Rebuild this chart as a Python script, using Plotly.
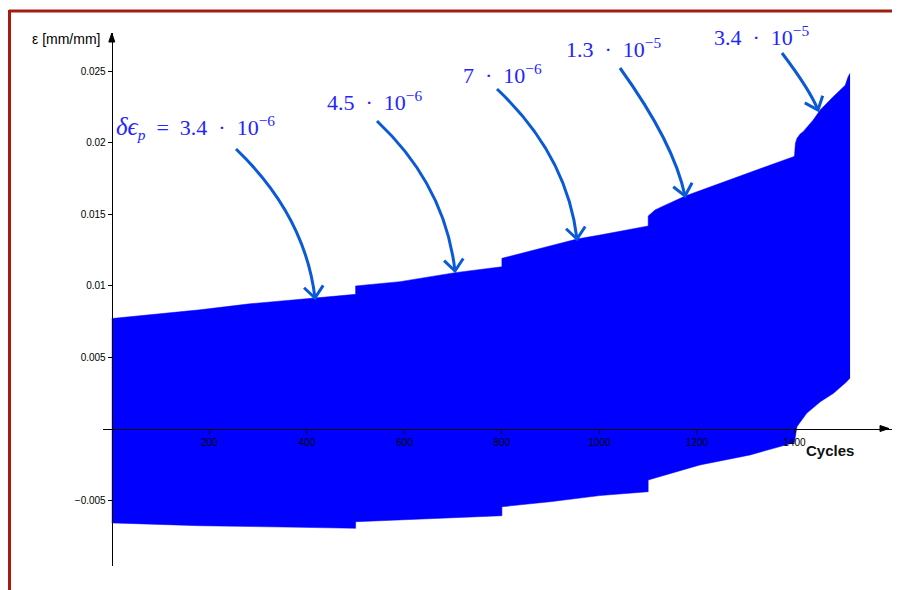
import math
import plotly.graph_objects as go

# ---------------- data ----------------
# upper envelope (max strain per cycle)
upper_cycles = [0, 181, 283, 417, 500, 500, 591, 704, 800, 800, 954, 1001, 1100,
                1100, 1114, 1128, 1176, 1398, 1400, 1401.9, 1405.3, 1411.7, 1417.8,
                1438.4, 1452.7, 1479.4, 1504, 1510, 1514]
upper_strain = [0.00769, 0.00830, 0.00872, 0.00913, 0.00938, 0.00997, 0.01027, 0.01090,
                0.01131, 0.01190, 0.01325, 0.01353, 0.01416,
                0.01486, 0.01528, 0.01551, 0.01626, 0.01901, 0.01905, 0.01994, 0.02030,
                0.02060, 0.02076, 0.02157, 0.02227, 0.02320, 0.02400, 0.02460, 0.02484]
# lower envelope (min strain per cycle)
lower_cycles = [0, 181, 387, 500, 500, 591, 694, 800, 800, 899, 1001, 1100,
                1100, 1206, 1309, 1400, 1405, 1425, 1453, 1480, 1507, 1514]
lower_strain = [-0.00660, -0.00680, -0.00691, -0.00698, -0.00652, -0.00640, -0.00628,
                -0.00610, -0.00547, -0.00512, -0.00469, -0.00442,
                -0.00360, -0.00255, -0.00185, -0.00098, 0.00013, 0.00106, 0.00187,
                0.00246, 0.00327, 0.00353]

x_tick_vals = [200, 400, 600, 800, 1000, 1200, 1400, 1600]
x_tick_text = ["200", "400", "600", "800", "1000", "1200", "1400", "1600"]
y_tick_vals = [-0.005, 0.005, 0.01, 0.015, 0.02, 0.025]
y_tick_text = ["\u22120.005", "0.005", "0.01", "0.015", "0.02", "0.025"]

SP = "\u2002"   # en space (math-like spacing around binary operators)
labels = [f"<span style='font-size:25px'><i>\u03b4\u03f5</i></span><i><sub>p</sub></i>"
          f"{SP}={SP}3.4{SP}\u00b7{SP}10<sup>\u22126</sup>",
          f"4.5{SP}\u00b7{SP}10<sup>\u22126</sup>",
          f"7{SP}\u00b7{SP}10<sup>\u22126</sup>",
          f"1.3{SP}\u00b7{SP}10<sup>\u22125</sup>",
          f"3.4{SP}\u00b7{SP}10<sup>\u22125</sup>"]

# ---------------- layout geometry ----------------
OFF = 8                    # page body margin
W, H = 892, 582
X_DOM_PX = (103, 892)
Y_DOM_PX = (566, 33)       # bottom, top (window pixels)
X_RANGE = [-18.05, 1600]
Y_RANGE = [-0.009615, 0.027657]

def px2paper_x(px):
    return (px - OFF) / W

def px2paper_y(py):
    return 1 - (py - OFF) / H

x_domain = [px2paper_x(X_DOM_PX[0]), px2paper_x(X_DOM_PX[1])]
y_domain = [px2paper_y(Y_DOM_PX[0]), px2paper_y(Y_DOM_PX[1])]
x_axis_pos = y_domain[0] + (0 - Y_RANGE[0]) / (Y_RANGE[1] - Y_RANGE[0]) * (y_domain[1] - y_domain[0])
y_axis_pos = x_domain[0] + (0 - X_RANGE[0]) / (X_RANGE[1] - X_RANGE[0]) * (x_domain[1] - x_domain[0])

BAND = "#0000ff"
ARROW = "#0a5ad6"
TEXT = "#2424ff"
FRAME = "#a31c10"

fig = go.Figure()
fig.add_trace(go.Scatter(x=lower_cycles, y=lower_strain, mode="lines",
                         line=dict(color=BAND, width=0.5), showlegend=False,
                         hoverinfo="skip"))
fig.add_trace(go.Scatter(x=upper_cycles, y=upper_strain, mode="lines",
                         line=dict(color=BAND, width=0.5), fill="tonexty",
                         fillcolor=BAND, showlegend=False, hoverinfo="skip"))

shapes = []
annotations = []

# frame (top and left dark-red rules)
shapes.append(dict(type="line", xref="paper", yref="paper",
                   x0=px2paper_x(9), x1=1.0, y0=px2paper_y(11), y1=px2paper_y(11),
                   line=dict(color=FRAME, width=3)))
shapes.append(dict(type="line", xref="paper", yref="paper",
                   x0=px2paper_x(9.5), x1=px2paper_x(9.5), y0=px2paper_y(10), y1=0,
                   line=dict(color=FRAME, width=3)))

# axis arrowheads
ax0 = y_axis_pos
ay0 = x_axis_pos
shapes.append(dict(type="path", xref="paper", yref="paper",
                   path=f"M {px2paper_x(889)},{ay0} L {px2paper_x(880)},{ay0 + 3/H} "
                        f"L {px2paper_x(880)},{ay0 - 3/H} Z",
                   fillcolor="black", line=dict(color="black", width=1)))
shapes.append(dict(type="path", xref="paper", yref="paper",
                   path=f"M {ax0},{px2paper_y(33)} L {ax0 - 3/W},{px2paper_y(42)} "
                        f"L {ax0 + 3/W},{px2paper_y(42)} Z",
                   fillcolor="black", line=dict(color="black", width=1)))

# curved annotation arrows: start, control, tip (window pixels)
arrows = [((236, 149), (305, 215), (315, 298)),
          ((377, 121), (445, 185), (455, 271)),
          ((497, 89), (567, 155), (577, 239)),
          ((620, 68), (674, 143), (685, 196)),
          ((782, 53), (810, 90), (818, 110))]
for (s, c, t) in arrows:
    shapes.append(dict(type="path", xref="paper", yref="paper",
                       path=f"M {px2paper_x(s[0])},{px2paper_y(s[1])} "
                            f"Q {px2paper_x(c[0])},{px2paper_y(c[1])} "
                            f"{px2paper_x(t[0])},{px2paper_y(t[1])}",
                       line=dict(color=ARROW, width=3)))
    dx, dy = t[0] - c[0], t[1] - c[1]
    n = math.hypot(dx, dy)
    bx, by = -dx / n, -dy / n
    L = 15
    arms = []
    for ang in (math.radians(40), math.radians(-40)):
        rx = bx * math.cos(ang) - by * math.sin(ang)
        ry = bx * math.sin(ang) + by * math.cos(ang)
        arms.append((t[0] + L * rx, t[1] + L * ry))
    shapes.append(dict(type="path", xref="paper", yref="paper",
                       path=f"M {px2paper_x(arms[0][0])},{px2paper_y(arms[0][1])} "
                            f"L {px2paper_x(t[0])},{px2paper_y(t[1])} "
                            f"L {px2paper_x(arms[1][0])},{px2paper_y(arms[1][1])}",
                       line=dict(color=ARROW, width=3)))

# label texts (left edge, vertical centre in window pixels)
label_pos = [(114, 128), (325, 101), (461, 74), (564, 48), (712, 36)]
for txt, (lx, ly) in zip(labels, label_pos):
    annotations.append(dict(text=txt, xref="paper", yref="paper",
                            x=px2paper_x(lx), y=px2paper_y(ly),
                            xanchor="left", yanchor="middle", showarrow=False,
                            font=dict(family="Liberation Serif", size=22, color=TEXT)))

# axis titles
annotations.append(dict(text="\u03b5 [mm/mm]", xref="paper", yref="paper",
                        x=px2paper_x(102), y=px2paper_y(39), xanchor="right",
                        yanchor="middle", showarrow=False,
                        font=dict(family="Liberation Sans", size=14, color="black")))
annotations.append(dict(text="<b>Cycles</b>", xref="paper", yref="paper",
                        x=px2paper_x(830), y=px2paper_y(450), xanchor="center",
                        yanchor="middle", showarrow=False,
                        font=dict(family="Liberation Sans", size=15, color="#111111")))

fig.update_layout(
    width=W, height=H, margin=dict(l=0, r=0, t=0, b=0),
    paper_bgcolor="white", plot_bgcolor="rgba(0,0,0,0)",
    shapes=shapes, annotations=annotations, showlegend=False,
    xaxis=dict(domain=x_domain, range=X_RANGE, anchor="free", position=x_axis_pos,
               showline=True, linecolor="black", linewidth=1.2,
               showgrid=False, zeroline=False,
               tickmode="array", tickvals=x_tick_vals, ticktext=x_tick_text,
               ticks="outside", ticklen=4, tickcolor="black", tickwidth=1,
               tickfont=dict(family="Liberation Sans", size=10, color="black"),
               layer="above traces"),
    yaxis=dict(domain=y_domain, range=Y_RANGE, anchor="free", position=y_axis_pos,
               showline=True, linecolor="black", linewidth=1.2,
               showgrid=False, zeroline=False,
               tickmode="array", tickvals=y_tick_vals, ticktext=y_tick_text,
               ticks="outside", ticklen=4, tickcolor="black", tickwidth=1,
               tickfont=dict(family="Liberation Sans", size=10, color="black"),
               layer="above traces"),
)

fig.write_html("out.html")
